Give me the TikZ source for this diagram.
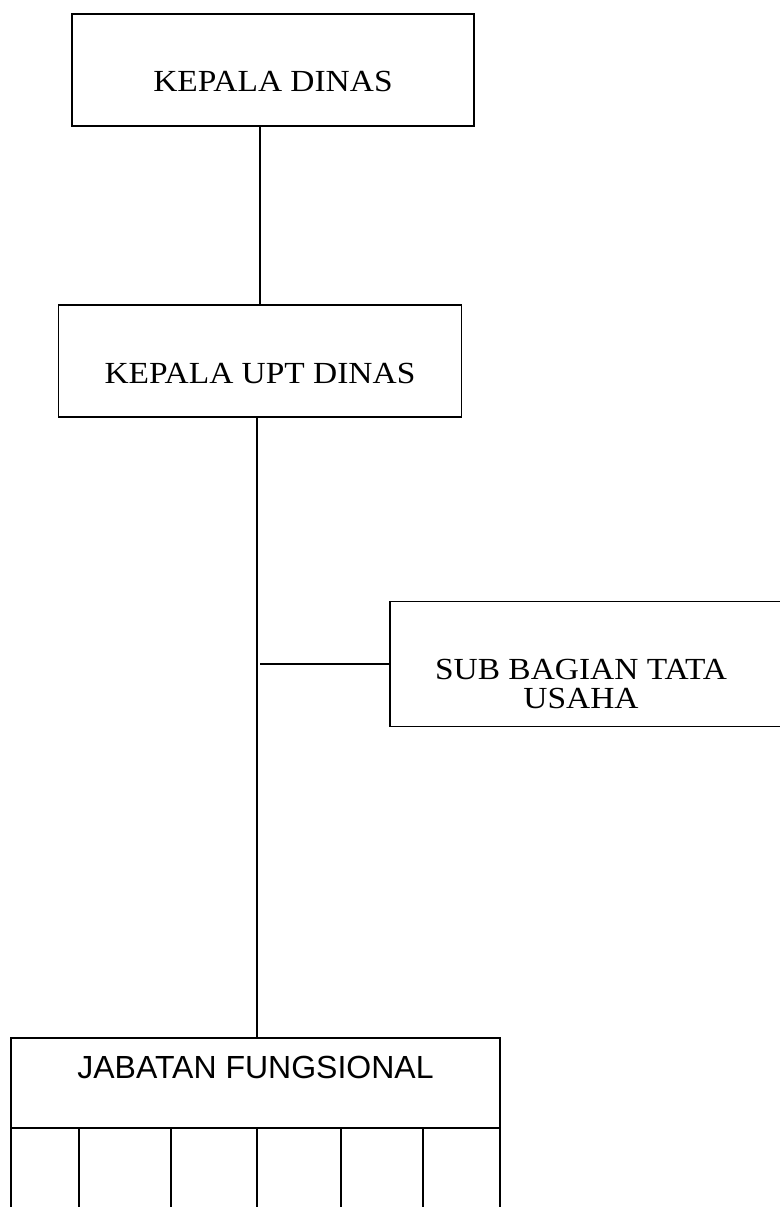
\documentclass[tikz,border=0pt]{standalone}
\usepackage{fontspec}
\usetikzlibrary{positioning}
\newfontfamily\orgserif[FakeStretch=1.09]{Liberation Serif}
\newfontfamily\orgsans{Liberation Sans}
\tikzset{
  box/.style={rectangle,draw,line width=1.2pt,align=center,inner sep=0pt,font=\orgserif\fontsize{23pt}{19.5pt}\selectfont},
  boxtext/.style={inner sep=0pt,align=center,font=\orgserif\fontsize{23pt}{22pt}\selectfont},
  line/.style={line width=1.2pt}
}

\begin{document}
\begin{tikzpicture}[x=0.75pt,y=-0.75pt]
\clip (0,0) rectangle (780,1207);
\coordinate (spine) at (257,0);
\node[box, minimum width=301.5pt, minimum height=84pt, text height=31.5pt, text depth=0pt] (kd) at (273,70) {KEPALA DINAS};
\node[box, minimum width=302.25pt, minimum height=84pt, text height=33pt, text depth=0pt] (kupt) at (260,361) {KEPALA UPT DINAS};
\node[box, anchor=west, minimum width=315.75pt, minimum height=93.75pt] (sbtu) at (389,664) {};
\node[boxtext] (sbtulabel) at (581,684) {SUB BAGIAN TATA\\USAHA};
\node[box, font=\orgsans\fontsize{24pt}{28pt}\selectfont, minimum width=366.75pt, minimum height=67.5pt, text height=17pt, text depth=24.5pt] (jf) at (255.5,1083) {JABATAN FUNGSIONAL};
\draw[line] (kupt.north |- kd.south) -- (kupt.north);
\draw[line] (spine |- kupt.south) -- (spine |- jf.north);
\draw[line, shorten <=2.25pt] (spine |- sbtu.west) -- (sbtu.west);
\foreach \x in {11,79,171,257,341,423,500}
  \draw[line] (jf.south -| \x,0) -- ++(0,90);
\end{tikzpicture}
\end{document}
